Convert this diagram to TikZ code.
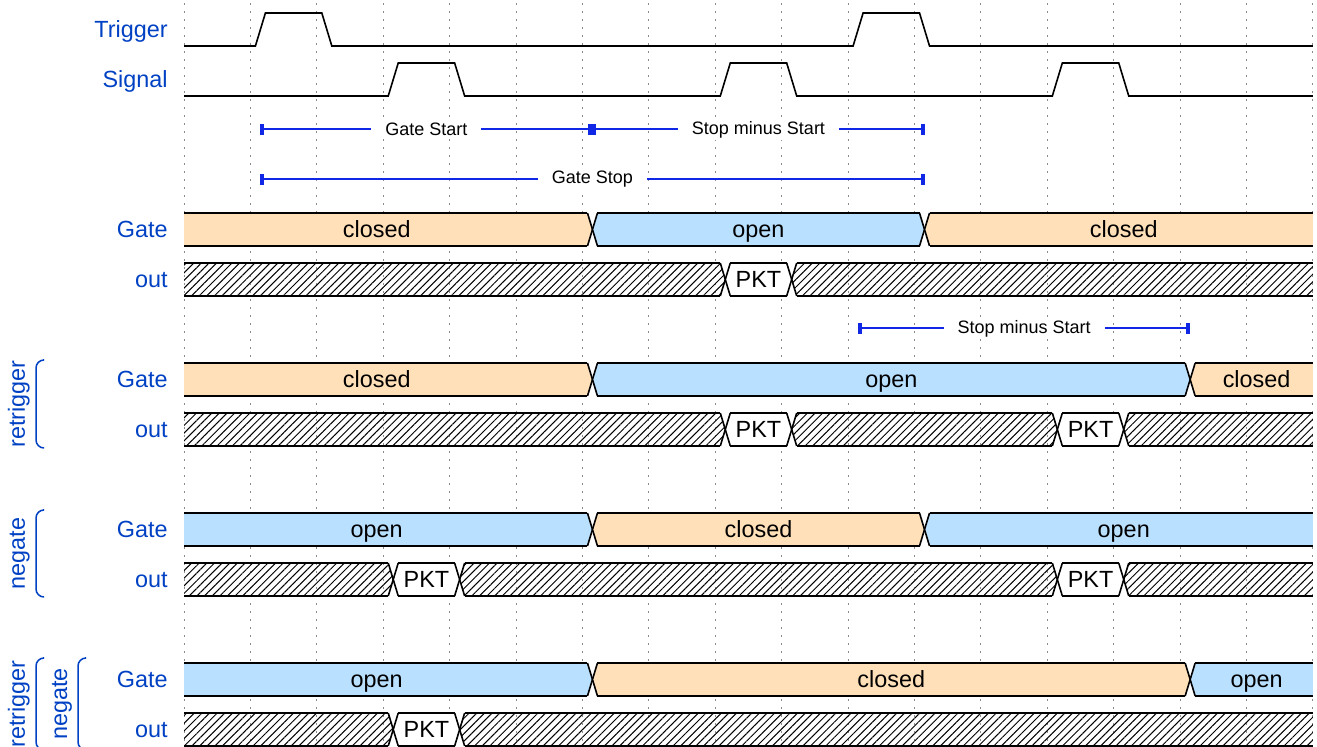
\documentclass[tikz,border=0pt]{standalone}
\usepackage{fontspec}
\setmainfont{Liberation Sans}
\usetikzlibrary{arrows.meta}
\usetikzlibrary{patterns.meta}
\definecolor{lblue}{RGB}{0,65,196}
\definecolor{spanblue}{RGB}{16,40,230}
\definecolor{gclosed}{RGB}{255,224,185}
\definecolor{gopen}{RGB}{185,224,255}
\tikzset{
  wave/.style={line width=.8pt},
  gridline/.style={black!45, line width=.5pt, dash pattern=on 1pt off 3pt},
  rowlbl/.style={text=lblue, font=\fontsize{11.7}{14}\selectfont, anchor=base east, inner sep=0pt},
  grouplbl/.style={text=lblue, font=\fontsize{11.7}{14}\selectfont, rotate=90, anchor=base, inner sep=0pt},
  grp/.style={draw=lblue, line width=.75pt, rounded corners=4pt},
  spanarrow/.style={spanblue, line width=1pt, {Bar[width=5.5pt,line width=2pt]}-{Bar[width=5.5pt,line width=2pt]}},
  spanlbl/.style={fill=white, text=black, font=\fontsize{9}{11}\selectfont, inner xsep=7pt, inner ysep=1pt},
  buslbl/.style={font=\fontsize{11.7}{14}\selectfont, anchor=base, inner sep=0pt},
  isclosed/.style={fill=gclosed},
  isopen/.style={fill=gopen},
  ispkt/.style={fill=white},
  hatch/.style={pattern={Lines[angle=45,distance=2.7pt,line width=.5pt]}},
}
% x position of a cycle
\newcommand\cx[1]{184+66.41*#1}
% bus segment: name, row top, from, to, style, text
\newcommand\busseg[6]{%
  \pgfmathsetmacro\xlt{184+66.41*#3+15*(#3>0)}%
  \pgfmathsetmacro\xlm{184+66.41*#3+10*(#3>0)}%
  \pgfmathsetmacro\xrt{184+66.41*#4+5*(#4<17)}%
  \pgfmathsetmacro\xrm{184+66.41*#4+10*(#4<17)}%
  \pgfmathsetmacro\xtx{184+66.41*(#3+#4)/2+10-16.5*(#3==0)}%
  \pgfmathsetmacro\ymid{#2+16.5}%
  \pgfmathsetmacro\ybot{#2+33}%
  \fill[#5] (\xlt,#2) -- (\xrt,#2) -- (\xrm,\ymid) -- (\xrt,\ybot) -- (\xlt,\ybot) -- (\xlm,\ymid) -- cycle;
  \draw[wave] (\xlt,#2) -- (\xrt,#2) (\xlt,\ybot) -- (\xrt,\ybot);
  \ifnum#3>0 \draw[wave] (\xlt,#2) -- (\xlm,\ymid) -- (\xlt,\ybot);\fi
  \ifnum#4<17 \draw[wave] (\xrt,#2) -- (\xrm,\ymid) -- (\xrt,\ybot);\fi
  \if\relax\detokenize{#6}\relax\else\node[buslbl] (#1) at (\xtx,\ymid+8) {#6};\fi
}

\begin{document}
\begin{tikzpicture}[x=.5pt, y=-.5pt]
  \useasboundingbox (0,0) rectangle (1317,747);
  % grid
  \foreach \i in {0,...,17}
    \draw[gridline] ({\cx{\i}},3) -- ({\cx{\i}},747);
  % row labels
  \node[rowlbl] (trig) at (168,38) {Trigger};
  \node[rowlbl] (sig) at (168,88) {Signal};
  \foreach \t/\n in {213/1,363/2,513/3,663/4} {
    \node[rowlbl] (gate\n) at (168,\t+24.5) {Gate};
    \node[rowlbl] (out\n) at (168,\t+74.5) {out};
  }
  % trigger and signal
  \draw[wave] ({\cx{0}},46) foreach \a/\b in {1/2,10/11} {
      -- ({\cx{\a}+5},46) -- ({\cx{\a}+15},13) -- ({\cx{\b}+5},13) -- ({\cx{\b}+15},46)
    } -- ({\cx{17}},46);
  \draw[wave] ({\cx{0}},96) foreach \a/\b in {3/4,8/9,13/14} {
      -- ({\cx{\a}+5},96) -- ({\cx{\a}+15},63) -- ({\cx{\b}+5},63) -- ({\cx{\b}+15},96)
    } -- ({\cx{17}},96);
  % spans
  \coordinate (gs0) at ({\cx{1}+10},129.5);
  \coordinate (gs1) at ({\cx{6}+10},129.5);
  \coordinate (gs2) at ({\cx{11}+10},129.5);
  \coordinate (gp0) at ({\cx{1}+10},179.5);
  \coordinate (gp1) at ({\cx{11}+10},179.5);
  \coordinate (ss0) at ({\cx{10}+10},328.5);
  \coordinate (ss1) at ({\cx{15}+10},328.5);
  \draw[spanarrow] (gs0) -- (gs1) node[spanlbl, midway] (gslbl) {Gate Start};
  \draw[spanarrow] (gs1) -- (gs2) node[spanlbl, midway] (smlbl) {Stop minus Start};
  \draw[spanarrow] (gp0) -- (gp1) node[spanlbl, midway] (gplbl) {Gate Stop};
  \draw[spanarrow] (ss0) -- (ss1) node[spanlbl, midway] (smlbltwo) {Stop minus Start};
  % plain
  \busseg{ga}{213}{0}{6}{isclosed}{closed}
  \busseg{gb}{213}{6}{11}{isopen}{open}
  \busseg{gc}{213}{11}{17}{isclosed}{closed}
  \busseg{oa}{263}{0}{8}{hatch}{}
  \busseg{ob}{263}{8}{9}{ispkt}{PKT}
  \busseg{oc}{263}{9}{17}{hatch}{}
  % retrigger
  \busseg{rga}{363}{0}{6}{isclosed}{closed}
  \busseg{rgb}{363}{6}{15}{isopen}{open}
  \busseg{rgc}{363}{15}{17}{isclosed}{closed}
  \busseg{roa}{413}{0}{8}{hatch}{}
  \busseg{rob}{413}{8}{9}{ispkt}{PKT}
  \busseg{roc}{413}{9}{13}{hatch}{}
  \busseg{rod}{413}{13}{14}{ispkt}{PKT}
  \busseg{roe}{413}{14}{17}{hatch}{}
  % negate
  \busseg{nga}{513}{0}{6}{isopen}{open}
  \busseg{ngb}{513}{6}{11}{isclosed}{closed}
  \busseg{ngc}{513}{11}{17}{isopen}{open}
  \busseg{noa}{563}{0}{3}{hatch}{}
  \busseg{nob}{563}{3}{4}{ispkt}{PKT}
  \busseg{noc}{563}{4}{13}{hatch}{}
  \busseg{nod}{563}{13}{14}{ispkt}{PKT}
  \busseg{noe}{563}{14}{17}{hatch}{}
  % retrigger + negate
  \busseg{bga}{663}{0}{6}{isopen}{open}
  \busseg{bgb}{663}{6}{15}{isclosed}{closed}
  \busseg{bgc}{663}{15}{17}{isopen}{open}
  \busseg{boa}{713}{0}{3}{hatch}{}
  \busseg{bob}{713}{3}{4}{ispkt}{PKT}
  \busseg{boc}{713}{4}{17}{hatch}{}
  % groups
  \draw[grp] (43,360) -- (36,360) -- (36,448) -- (43,448);
  \node[grouplbl] (grpre) at (25,404) {retrigger};
  \draw[grp] (43,510) -- (36,510) -- (36,597) -- (43,597);
  \node[grouplbl] (grpneg) at (25,553.5) {negate};
  \draw[grp] (43,658) -- (36,658) -- (36,750) -- (43,750);
  \node[grouplbl] (grpbre) at (25,704) {retrigger};
  \draw[grp] (85,658) -- (78,658) -- (78,750) -- (85,750);
  \node[grouplbl] (grpbneg) at (67,704) {negate};
\end{tikzpicture}
\end{document}
